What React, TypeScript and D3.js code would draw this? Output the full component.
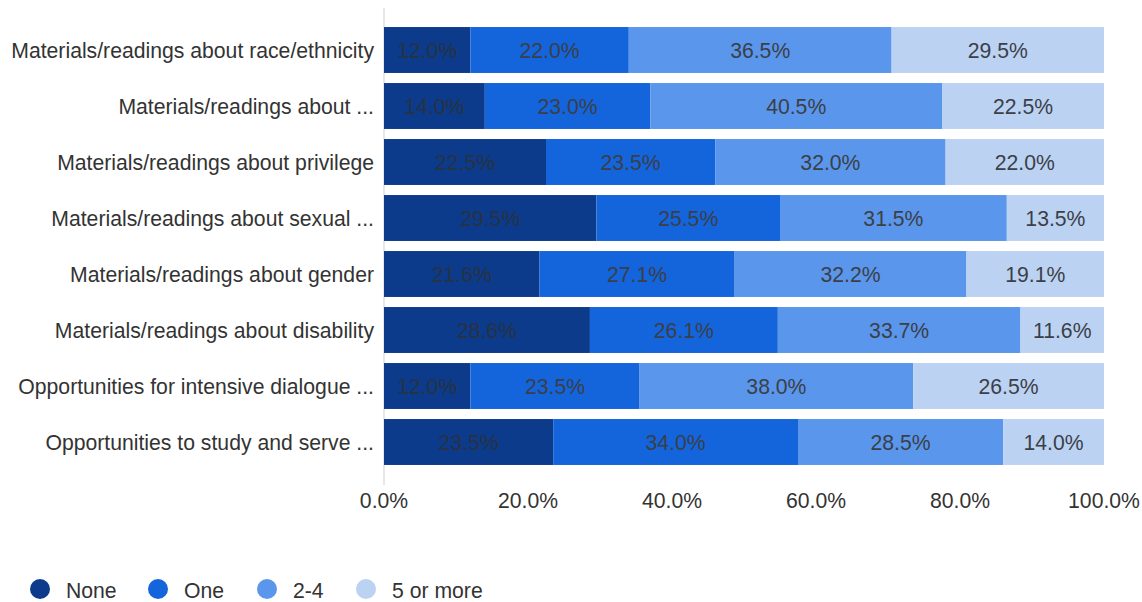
import React from "react";
import * as d3 from "d3";

const categories = [
  "Materials/readings about race/ethnicity",
  "Materials/readings about ...",
  "Materials/readings about privilege",
  "Materials/readings about sexual ...",
  "Materials/readings about gender",
  "Materials/readings about disability",
  "Opportunities for intensive dialogue ...",
  "Opportunities to study and serve ...",
];
const seriesNames = ["None", "One", "2-4", "5 or more"];
const noneVals = [12.0, 14.0, 22.5, 29.5, 21.6, 28.6, 12.0, 23.5];
const oneVals = [22.0, 23.0, 23.5, 25.5, 27.1, 26.1, 23.5, 34.0];
const twoFourVals = [36.5, 40.5, 32.0, 31.5, 32.2, 33.7, 38.0, 28.5];
const fivePlusVals = [29.5, 22.5, 22.0, 13.5, 19.1, 11.6, 26.5, 14.0];
const tickValues = [0, 20, 40, 60, 80, 100];
const colors = ["#0b3b8a", "#1464dc", "#5a96eb", "#bcd2f2"];

export default function App() {
  const W = 1142, H = 602;
  const series = [noneVals, oneVals, twoFourVals, fivePlusVals];
  const x = d3.scaleLinear().domain([0, 100]).range([384, 1104]);
  const y = d3.scaleBand<string>().domain(categories).range([22, 470]).paddingInner(0.18).paddingOuter(0.09);
  const font = "'Liberation Sans', Arial, sans-serif";
  const fs = 21.2;
  const legendX = [40, 158, 267, 366];
  return (
    <svg width={W} height={H} style={{ position: "absolute", left: 0, top: 0 }} fontFamily={font}>
      <line x1={384} x2={384} y1={8} y2={485} stroke="#e0e0e0" strokeWidth={1.5} />
      {categories.map((c, i) => {
        let acc = 0;
        const y0 = y(c)!;
        const bh = y.bandwidth();
        return (
          <g key={c}>
            <text x={374} y={y0 + bh / 2} textAnchor="end" dominantBaseline="central" fontSize={fs} fill="#333">{c}</text>
            {series.map((s, j) => {
              const v = s[i];
              const x0 = x(acc);
              acc += v;
              const x1 = x(acc);
              return (
                <g key={j}>
                  <rect x={x0} y={y0} width={x1 - x0} height={bh} fill={colors[j]} />
                  <text x={(x0 + x1) / 2} y={y0 + bh / 2} textAnchor="middle" dominantBaseline="central" fontSize={fs} fill={j === 0 ? "#283244" : "#3a3f48"}>{v.toFixed(1)}%</text>
                </g>
              );
            })}
          </g>
        );
      })}
      {tickValues.map((t) => (
        <text key={t} x={x(t)} y={500} textAnchor="middle" dominantBaseline="central" fontSize={fs} fill="#333">{t.toFixed(1)}%</text>
      ))}
      {seriesNames.map((n, j) => (
        <g key={n}>
          <circle cx={legendX[j]} cy={589} r={10} fill={colors[j]} />
          <text x={legendX[j] + 26} y={590} dominantBaseline="central" fontSize={fs} fill="#333">{n}</text>
        </g>
      ))}
    </svg>
  );
}
